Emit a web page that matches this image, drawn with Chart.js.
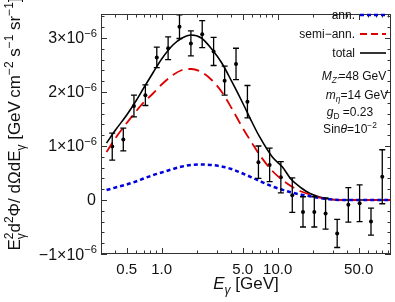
<!DOCTYPE html>
<html>
<head>
<meta charset="utf-8">
<script src="https://cdn.jsdelivr.net/npm/chart.js@4/dist/chart.umd.min.js"></script>
<style>
  html, body { margin: 0; padding: 0; background: #fff; }
</style>
</head>
<body>
<canvas id="chart" width="395" height="302"></canvas>
<script>
/* Gamma-ray spectrum: data points with error bars + model curves.
   Fluxes are in units of 1e-6 GeV cm^-2 s^-1 sr^-1. */

// ── data ────────────────────────────────────────
const energy  = [0.375, 0.467, 0.577, 0.724, 0.908, 1.137, 1.425, 1.787, 2.237, 2.805, 3.491, 4.377, 5.489,
                 6.83, 8.53, 10.66, 13.37, 16.54, 20.7, 25.9, 32.6, 40.7, 50.9, 63.8, 79.8];
const flux    = [0.99, 1.12, 1.74, 1.94, 2.64, 2.81, 3.21, 2.90, 3.07, 2.75, 2.21, 2.52, 1.82,
                 0.70, 0.65, 0.42, 0.09, -0.22, -0.22, -0.25, -0.62, -0.09, -0.06, -0.40, 0.43];
const fluxErr = [0.25, 0.21, 0.20, 0.19, 0.19, 0.21, 0.22, 0.23, 0.25, 0.26, 0.27, 0.29, 0.30,
                 0.30, 0.31, 0.29, 0.32, 0.28, 0.28, 0.29, 0.26, 0.32, 0.34, 0.25, 0.50];

const curveE     = [0.335, 0.4, 0.5, 0.6, 0.7, 0.85, 1, 1.25, 1.5, 1.8, 2.2, 2.7, 3.3, 4, 5, 6, 7,
                    9, 11, 13, 16, 19, 23, 28, 37, 55, 95];
const annCurve   = [0.185, 0.231, 0.287, 0.343, 0.398, 0.463, 0.509, 0.574, 0.620, 0.648, 0.657, 0.648,
                    0.620, 0.574, 0.491, 0.417, 0.352, 0.250, 0.189, 0.143, 0.098, 0.069, 0.037, 0.013, 0, 0, 0];
const semiCurve  = [0.889, 1.148, 1.426, 1.639, 1.806, 1.981, 2.139, 2.315, 2.407, 2.426, 2.370, 2.222,
                    2.0, 1.704, 1.333, 1.056, 0.833, 0.537, 0.370, 0.259, 0.157, 0.102, 0.046, 0.013, 0, 0, 0];
const totalCurve = [1.056, 1.296, 1.574, 1.833, 2.074, 2.370, 2.611, 2.870, 3.0, 3.056, 3.0, 2.796,
                    2.537, 2.204, 1.796, 1.444, 1.167, 0.796, 0.611, 0.389, 0.222, 0.120, 0.056, 0.015, 0, 0, 0];

const xLabelTicks = [0.5, 1, 5, 10, 50];
const xMinorTicks = [0.4, 0.6, 0.7, 0.8, 0.9, 2, 3, 4, 6, 7, 8, 9, 20, 30, 40, 60, 70, 80, 90];
const yLabelTicks = [-1, 0, 1, 2, 3];
const yMinorStep  = 0.2;

// ── text helpers ────────────────────────────────
const FONT = '"Liberation Sans", Arial, sans-serif';

function setFont(ctx, size, italic) {
  ctx.font = (italic ? 'italic ' : '') + size + 'px ' + FONT;
}

// parts: {t, k:'sup'|'sub', i:italic, hold:don't advance}
function layoutRich(ctx, parts, size) {
  let w = 0, held = 0;
  const items = parts.map((p) => {
    const s = p.k ? size * 0.7 : size;
    setFont(ctx, s, p.i);
    const pw = ctx.measureText(p.t).width;
    const dy = p.k === 'sup' ? -size * 0.42 : p.k === 'sub' ? size * 0.28 : 0;
    const it = { t: p.t, s, i: p.i, x: w, dy };
    if (p.hold) held = Math.max(held, pw);
    else { w += Math.max(pw, held); held = 0; }
    return it;
  });
  return { items, w };
}

function drawRich(ctx, parts, x, y, size, align) {
  const { items, w } = layoutRich(ctx, parts, size);
  const x0 = align === 'right' ? x - w : align === 'center' ? x - w / 2 : x;
  ctx.textAlign = 'left';
  ctx.textBaseline = 'alphabetic';
  items.forEach((it) => {
    setFont(ctx, it.s, it.i);
    ctx.fillText(it.t, x0 + it.x, y + it.dy);
  });
}

// ── frame, ticks, labels, legend, error bars ────
const decorPlugin = {
  id: 'decor',
  beforeDatasetsDraw(chart) {
    const { ctx, chartArea: a, scales: { x, y } } = chart;
    ctx.save();
    ctx.strokeStyle = '#333';
    ctx.lineWidth = 1;
    ctx.beginPath();
    // x ticks, bottom and top, pointing in
    const xt = xLabelTicks.map((v) => [v, 6]).concat(xMinorTicks.map((v) => [v, 3.5]));
    xt.forEach(([v, len]) => {
      const px = Math.round(x.getPixelForValue(v)) + 0.5;
      ctx.moveTo(px, a.bottom); ctx.lineTo(px, a.bottom - len);
      ctx.moveTo(px, a.top);    ctx.lineTo(px, a.top + len);
    });
    // y ticks, left and right
    for (let k = -5; k <= 17; k++) {
      const v = k * yMinorStep;
      const len = (k % 5 === 0) ? 6 : 3.5;
      const py = Math.round(y.getPixelForValue(v)) + 0.5;
      ctx.moveTo(a.left, py);  ctx.lineTo(a.left + len, py);
      ctx.moveTo(a.right, py); ctx.lineTo(a.right - len, py);
    }
    ctx.stroke();
    ctx.restore();
  },
  afterDatasetsDraw(chart) {
    const { ctx, chartArea: a, scales: { x, y } } = chart;
    ctx.save();

    // error bars
    ctx.strokeStyle = '#000';
    ctx.lineWidth = 1.3;
    ctx.beginPath();
    energy.forEach((e, i) => {
      const px = x.getPixelForValue(e);
      const y1 = y.getPixelForValue(flux[i] - fluxErr[i]);
      const y2 = y.getPixelForValue(flux[i] + fluxErr[i]);
      ctx.moveTo(px, y1); ctx.lineTo(px, y2);
      ctx.moveTo(px - 3, y1); ctx.lineTo(px + 3, y1);
      ctx.moveTo(px - 3, y2); ctx.lineTo(px + 3, y2);
    });
    ctx.stroke();

    // frame
    ctx.strokeStyle = '#333';
    ctx.lineWidth = 1;
    ctx.strokeRect(a.left + 0.5, a.top + 0.5, a.right - a.left - 1, a.bottom - a.top - 1);

    ctx.fillStyle = '#111';
    // y tick labels
    yLabelTicks.forEach((v) => {
      const py = y.getPixelForValue(v) + 5.5;
      if (v === 0) drawRich(ctx, [{ t: '0' }], 96, py, 16, 'right');
      else drawRich(ctx, [{ t: (v < 0 ? '\u2212' : '') + Math.abs(v) + '\u00d710' }, { t: '\u22126', k: 'sup' }], 97, py, 16, 'right');
    });

    // axis titles
    drawRich(ctx, [{ t: 'E', i: true }, { t: '\u03b3', k: 'sub', i: true }, { t: ' [GeV]' }],
      (a.left + a.right) / 2, 289, 17, 'center');
    ctx.save();
    ctx.translate(14, 124);
    ctx.rotate(-Math.PI / 2);
    drawRich(ctx, [
      { t: 'E' }, { t: '2', k: 'sup', hold: true }, { t: '\u03b3', k: 'sub' },
      { t: 'd' }, { t: '2', k: 'sup' }, { t: '\u03a6/ d\u03a9dE' }, { t: '\u03b3', k: 'sub' },
      { t: ' [GeV\u2009cm' }, { t: '\u22122', k: 'sup' }, { t: ' s' }, { t: '\u22121', k: 'sup' },
      { t: ' sr' }, { t: '\u22121', k: 'sup' }, { t: ']' }
    ], 0, 6, 17, 'center');
    ctx.restore();

    // legend
    const rows = chart.data.datasets.filter((d) => d.legendRow !== undefined);
    rows.forEach((d) => {
      const ry = 15 + d.legendRow * 19;
      drawRich(ctx, [{ t: d.label }], 355, ry + 4, 12, 'right');
      ctx.strokeStyle = d.borderColor;
      ctx.lineWidth = d.borderWidth;
      ctx.setLineDash(d.legendDash || []);
      ctx.beginPath();
      ctx.moveTo(360, ry); ctx.lineTo(386, ry);
      ctx.stroke();
    });
    ctx.setLineDash([]);

    // model parameters
    ctx.fillStyle = '#111';
    drawRich(ctx, [{ t: 'M', i: true }, { t: 'Z\u2032', k: 'sub', i: true }, { t: '=48 GeV' }], 354, 80, 12, 'center');
    drawRich(ctx, [{ t: 'm', i: true }, { t: '\u03b7', k: 'sub', i: true }, { t: '=14 GeV' }], 357, 99, 12, 'center');
    drawRich(ctx, [{ t: 'g', i: true }, { t: 'D', k: 'sub' }, { t: ' =0.23' }], 350, 116, 12, 'center');
    drawRich(ctx, [{ t: 'Sin' }, { t: '\u03b8', i: true }, { t: '=10' }, { t: '\u22122', k: 'sup' }], 350, 133, 12, 'center');

    ctx.restore();
  }
};

const toXY = (xs, ys) => xs.map((v, i) => ({ x: v, y: ys[i] }));

new Chart(document.getElementById('chart'), {
  type: 'scatter',
  data: {
    datasets: [
      {
        label: 'ann.', legendRow: 0, legendDash: [4, 3],
        data: toXY(curveE, annCurve), showLine: true, pointRadius: 0,
        borderColor: '#0000dd', borderWidth: 2.5, borderDash: [4, 3],
        cubicInterpolationMode: 'monotone'
      },
      {
        label: 'semi\u2212ann.', legendRow: 1, legendDash: [7, 4],
        data: toXY(curveE, semiCurve), showLine: true, pointRadius: 0,
        borderColor: '#dd0000', borderWidth: 1.8, borderDash: [11, 6],
        cubicInterpolationMode: 'monotone'
      },
      {
        label: 'total', legendRow: 2,
        data: toXY(curveE, totalCurve), showLine: true, pointRadius: 0,
        borderColor: '#000', borderWidth: 1.6,
        cubicInterpolationMode: 'monotone'
      },
      {
        label: 'data',
        data: toXY(energy, flux), showLine: false,
        pointRadius: 2, pointBackgroundColor: '#000', pointBorderColor: '#000', pointBorderWidth: 0
      }
    ]
  },
  options: {
    responsive: false,
    animation: false,
    layout: { padding: { top: 14, right: 2, left: 0, bottom: 0 } },
    plugins: { legend: { display: false }, tooltip: { enabled: false } },
    scales: {
      x: {
        type: 'logarithmic', min: 0.334, max: 94.9,
        afterBuildTicks: (s) => { s.ticks = xLabelTicks.map((v) => ({ value: v })); },
        afterFit: (s) => { s.height = 48; },
        grid: { display: false, drawTicks: false },
        border: { display: false },
        ticks: {
          autoSkip: false, maxRotation: 0, padding: 7, color: '#111',
          font: { family: FONT, size: 15 },
          callback: (v) => Number(v).toFixed(1)
        }
      },
      y: {
        type: 'linear', min: -1, max: 3.444,
        afterFit: (s) => { s.width = 101; },
        grid: { display: false, drawTicks: false },
        border: { display: false },
        ticks: { display: false }
      }
    }
  },
  plugins: [decorPlugin]
});
</script>
</body>
</html>
